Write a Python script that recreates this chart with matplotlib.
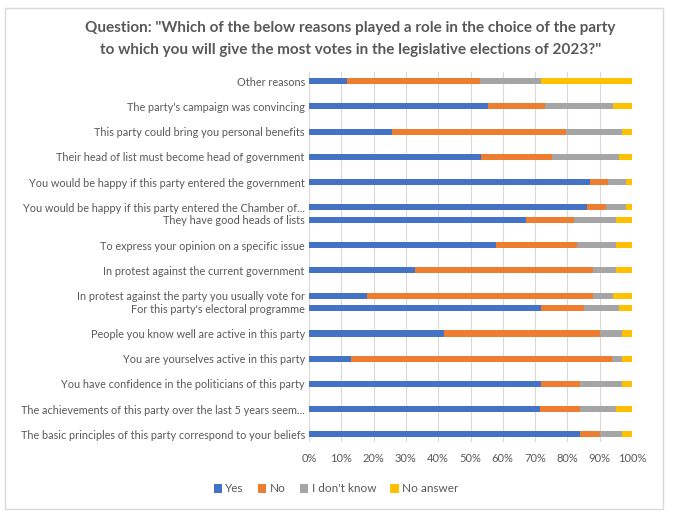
import matplotlib
matplotlib.use('Agg')
import matplotlib.pyplot as plt
from matplotlib.patches import Rectangle
import numpy as np

plt.rcParams['font.family'] = ['Lato', 'DejaVu Sans']

reasons = [
    "Other reasons",
    "The party's campaign was convincing",
    "This party could bring you personal benefits",
    "Their head of list must become head of government",
    "You would be happy if this party entered the government",
    "You would be happy if this party entered the Chamber of...",
    "They have good heads of lists",
    "To express your opinion on a specific issue",
    "In protest against the current government",
    "In protest against the party you usually vote for",
    "For this party's electoral programme",
    "People you know well are active in this party",
    "You are yourselves active in this party",
    "You have confidence in the politicians of this party",
    "The achievements of this party over the last 5 years seem...",
    "The basic principles of this party correspond to your beliefs",
]
yes = [11.8, 55.3, 25.7, 53.2, 86.9, 86.0, 67.1, 57.9, 32.9, 17.9, 71.8, 41.8, 13.1, 71.8, 71.5, 83.8]
no = [41.1, 17.9, 54.0, 21.9, 5.8, 5.8, 14.9, 25.0, 54.9, 69.9, 13.3, 48.2, 80.7, 12.0, 12.3, 6.2]
dont_know = [18.9, 20.9, 17.1, 20.8, 5.3, 6.2, 13.0, 12.1, 7.2, 6.3, 10.8, 6.8, 3.0, 13.0, 11.2, 6.8]
no_answer = [28.2, 5.9, 3.2, 4.1, 2.0, 2.0, 5.0, 5.0, 5.0, 5.9, 4.1, 3.2, 3.2, 3.2, 5.0, 3.2]
series_names = ["Yes", "No", "I don't know", "No answer"]

# row slots as laid out in the original (two pairs sit half a row apart)
rows = [0, 1, 2, 3, 4, 5, 5.5, 6.5, 7.5, 8.5, 9, 10, 11, 12, 13, 14]
colors = ['#4472C4', '#ED7D31', '#A5A5A5', '#FFC000']
text_col = '#595959'

fig = plt.figure(figsize=(6.75, 5.27), dpi=100)
fig.patches.append(Rectangle((5 / 675, 1 - 509 / 527), 658 / 675, 501 / 527,
                             transform=fig.transFigure, fill=False,
                             edgecolor='#D9D9D9', linewidth=1))

ax = fig.add_axes([309 / 675, 1 - 442 / 527, 323 / 675, 370 / 527])
left = np.zeros(len(reasons))
for vals, name, c in zip([yes, no, dont_know, no_answer], series_names, colors):
    ax.barh(rows, vals, left=left, height=0.24, color=c, label=name, zorder=3)
    left += np.array(vals)

ax.set_xlim(0, 100)
ax.set_ylim(14.3, -0.36)
ax.set_xticks(np.arange(0, 101, 10))
ax.set_xticklabels([f'{v}%' for v in range(0, 101, 10)])
ax.set_yticks(rows)
ax.set_yticklabels(reasons)
ax.tick_params(axis='both', length=0, colors=text_col)
ax.tick_params(axis='x', pad=8, labelsize=8)
ax.tick_params(axis='y', pad=3, labelsize=7.8)
ax.grid(axis='x', color='#D9D9D9', linewidth=0.8, zorder=0)
for s in ax.spines.values():
    s.set_visible(False)

fig.text(0.519, 1 - 28 / 527, 'Question: "Which of the below reasons played a role in the choice of the party',
         ha='center', va='center', fontsize=11, fontweight='bold', color=text_col)
fig.text(0.519, 1 - 50 / 527, 'to which you will give the most votes in the legislative elections of 2023?"',
         ha='center', va='center', fontsize=11, fontweight='bold', color=text_col)

fig.legend(loc='center', bbox_to_anchor=(336 / 675, 1 - 489 / 527), ncol=4, frameon=False,
           fontsize=8.5, handlelength=0.7, handleheight=0.7, handletextpad=0.3,
           columnspacing=1.2, labelcolor=text_col)

fig.savefig('out.png', dpi=100)
